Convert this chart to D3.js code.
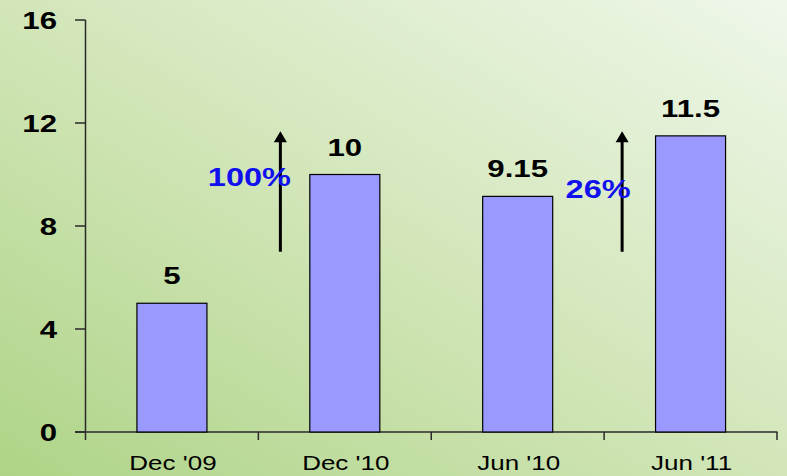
<!DOCTYPE html>
<html>
<head>
<meta charset="utf-8">
<script src="https://cdn.jsdelivr.net/npm/d3@7"></script>
<style>
  html, body { margin: 0; padding: 0; overflow: hidden; }
  svg { display: block; }
  text { font-family: "Liberation Sans", Arial, sans-serif; }
</style>
</head>
<body>
<svg id="chart" width="787" height="476"></svg>
<script>
const categories = ["Dec '09", "Dec '10", "Jun '10", "Jun '11"];
const values = [5, 10, 9.15, 11.5];
const valueLabels = ["5", "10", "9.15", "11.5"];
const yTicks = [0, 4, 8, 12, 16];
const growthLabels = ["100%", "26%"];
const growthFrom = [0, 2];   // index of start bar of each growth pair
const arrowRange = [7, 11.6];

const W = 787, H = 476;
const svg = d3.select("#chart");

// background gradient
const defs = svg.append("defs");
const grad = defs.append("linearGradient").attr("id", "bg")
  .attr("x1", 0).attr("y1", 1).attr("x2", 1).attr("y2", 0);
grad.append("stop").attr("offset", "0%").attr("stop-color", "#aed487");
grad.append("stop").attr("offset", "45%").attr("stop-color", "#cfe4b4");
grad.append("stop").attr("offset", "100%").attr("stop-color", "#eff7ea");
svg.append("rect").attr("width", W).attr("height", H).attr("fill", "url(#bg)");

const x = d3.scaleBand().domain(categories).range([85.5, 777])
  .paddingInner(0.595).paddingOuter(0.2975);
const y = d3.scaleLinear().domain([0, 16]).range([432, 20]);

const SX = 1.3;
const axisColor = "#2a2a2a";

// Y axis line and ticks
svg.append("line").attr("x1", 85.5).attr("x2", 85.5)
  .attr("y1", y(16)).attr("y2", y(0))
  .attr("stroke", axisColor).attr("stroke-width", 1.5);
svg.selectAll(".ytick").data(yTicks).join("line")
  .attr("x1", 75).attr("x2", 85.5)
  .attr("y1", d => y(d)).attr("y2", d => y(d))
  .attr("stroke", axisColor).attr("stroke-width", 1.5);
svg.selectAll(".ylab").data(yTicks).join("text")
  .attr("transform", d => `translate(57,${y(d) + 8.5}) scale(${SX},1)`)
  .attr("text-anchor", "end")
  .attr("font-size", 24).attr("font-weight", "bold").attr("fill", "#000")
  .text(d => d);

// X axis line
svg.append("line").attr("x1", 75).attr("x2", 777.5)
  .attr("y1", y(0)).attr("y2", y(0))
  .attr("stroke", axisColor).attr("stroke-width", 1.5);
const boundaries = categories.map(c => x(c) + x.bandwidth() / 2 - x.step() / 2);
boundaries.push(boundaries[boundaries.length - 1] + x.step());
svg.selectAll(".xtick").data(boundaries).join("line")
  .attr("x1", d => d).attr("x2", d => d)
  .attr("y1", y(0)).attr("y2", y(0) + 8)
  .attr("stroke", axisColor).attr("stroke-width", 1.5);

// Category labels
svg.selectAll(".xlab").data(categories).join("text")
  .attr("transform", d => `translate(${x(d) + x.bandwidth() / 2 + 1},469.5) scale(${SX},1)`)
  .attr("text-anchor", "middle")
  .attr("font-size", 20).attr("fill", "#000")
  .text(d => d);

// Bars
svg.selectAll(".bar").data(values).join("rect")
  .attr("x", (d, i) => x(categories[i]))
  .attr("y", d => y(d))
  .attr("width", x.bandwidth())
  .attr("height", d => y(0) - y(d))
  .attr("fill", "#9999ff")
  .attr("stroke", "#000").attr("stroke-width", 1.2);

// Value labels
svg.selectAll(".vlab").data(values).join("text")
  .attr("transform", (d, i) => `translate(${x(categories[i]) + x.bandwidth() / 2},${y(d) - 19}) scale(${SX},1)`)
  .attr("text-anchor", "middle")
  .attr("font-size", 24).attr("font-weight", "bold").attr("fill", "#000")
  .text((d, i) => valueLabels[i]);

// Growth arrows
const arrowX = [22, 18];
const labelDX = [-9, -6];
const labelY = [186, 198];
growthLabels.forEach((lab, k) => {
  const bx = boundaries[growthFrom[k] + 1];
  const ax = bx + arrowX[k];
  const yTop = y(arrowRange[1]);
  const yBot = y(arrowRange[0]);
  svg.append("line").attr("x1", ax).attr("x2", ax)
    .attr("y1", yBot).attr("y2", yTop + 8)
    .attr("stroke", "#000").attr("stroke-width", 3);
  svg.append("path")
    .attr("d", `M${ax},${yTop - 2} L${ax + 6.5},${yTop + 9} L${ax - 6.5},${yTop + 9} Z`)
    .attr("fill", "#000");
  svg.append("text")
    .attr("transform", `translate(${bx + labelDX[k]},${labelY[k]}) scale(${SX},1)`)
    .attr("text-anchor", "middle")
    .attr("font-size", 25).attr("font-weight", "bold").attr("fill", "#1111ee")
    .text(lab);
});
</script>
</body>
</html>
